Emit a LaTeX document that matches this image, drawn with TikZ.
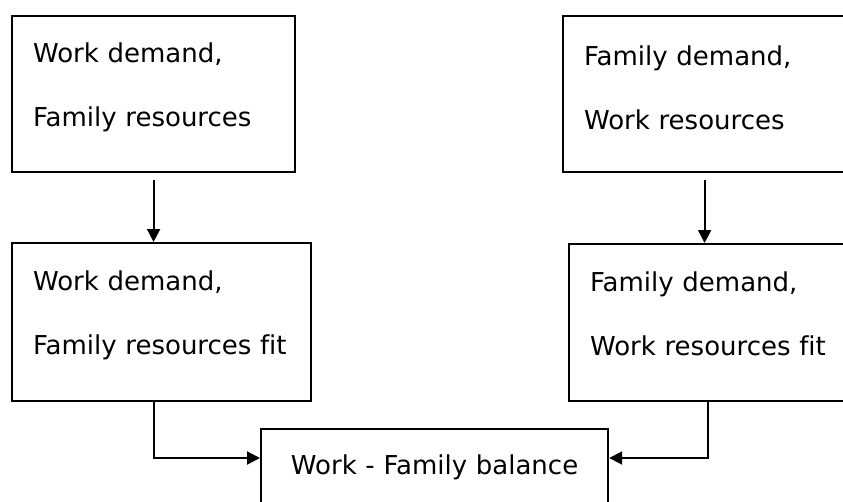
\documentclass[tikz,border=0pt]{standalone}
\usepackage{fontspec}
\setmainfont[Ligatures=NoCommon]{DejaVu Sans}
\usepackage{tikz}
\usetikzlibrary{calc}
\usetikzlibrary{arrows.meta}

\tikzset{
  box/.style = {draw, line width = 2.2pt, anchor = north west,
    align = left, inner xsep = 21pt, inner ysep = 0pt,
    font = \fontsize{26}{64}\selectfont},
  arr/.style = {line width = 2pt, -{Triangle[length = 13pt, width = 13pt]}}
}

\begin{document}
\begin{tikzpicture}[x = 1pt, y = -1pt]
  \useasboundingbox (0,0) rectangle (843,501);
  \clip (0,0) rectangle (843,501);

% top row
  \node[box, text width = 241pt, text height = 46pt, text depth = 110pt]
    (workDem) at (11,15) {Work demand,\\Family resources};
  \node[box, text width = 241pt, text height = 49pt, text depth = 107pt]
    (famDem) at (562,15) {Family demand,\\Work resources};

% fit row
  \node[box, text width = 257pt, text height = 47pt, text depth = 111pt]
    (workFit) at (11,242) {Work demand,\\Family resources fit};
  \node[box, text width = 236pt, text height = 47pt, text depth = 110pt]
    (famFit) at (568,243) {Family demand,\\Work resources fit};

% result
  \node[box, align = center, text width = 305pt, text height = 45pt, text depth = 47pt]
    (balance) at (260,428) {Work - Family balance};

% arrows
  \draw[arr, shorten <= 7pt] (workDem.south) -- (workDem.south |- workFit.north);
  \draw[arr, shorten <= 7pt] (famDem.south) -- (famDem.south |- famFit.north);

  \coordinate (leftIn) at ($(balance.north west) + (0,30)$);
  \coordinate (rightIn) at ($(balance.north east) + (0,30)$);
  \draw[arr] (workDem.south |- workFit.south) |- (leftIn);
  \draw[arr] (famFit.south) |- (rightIn);

\end{tikzpicture}
\end{document}
